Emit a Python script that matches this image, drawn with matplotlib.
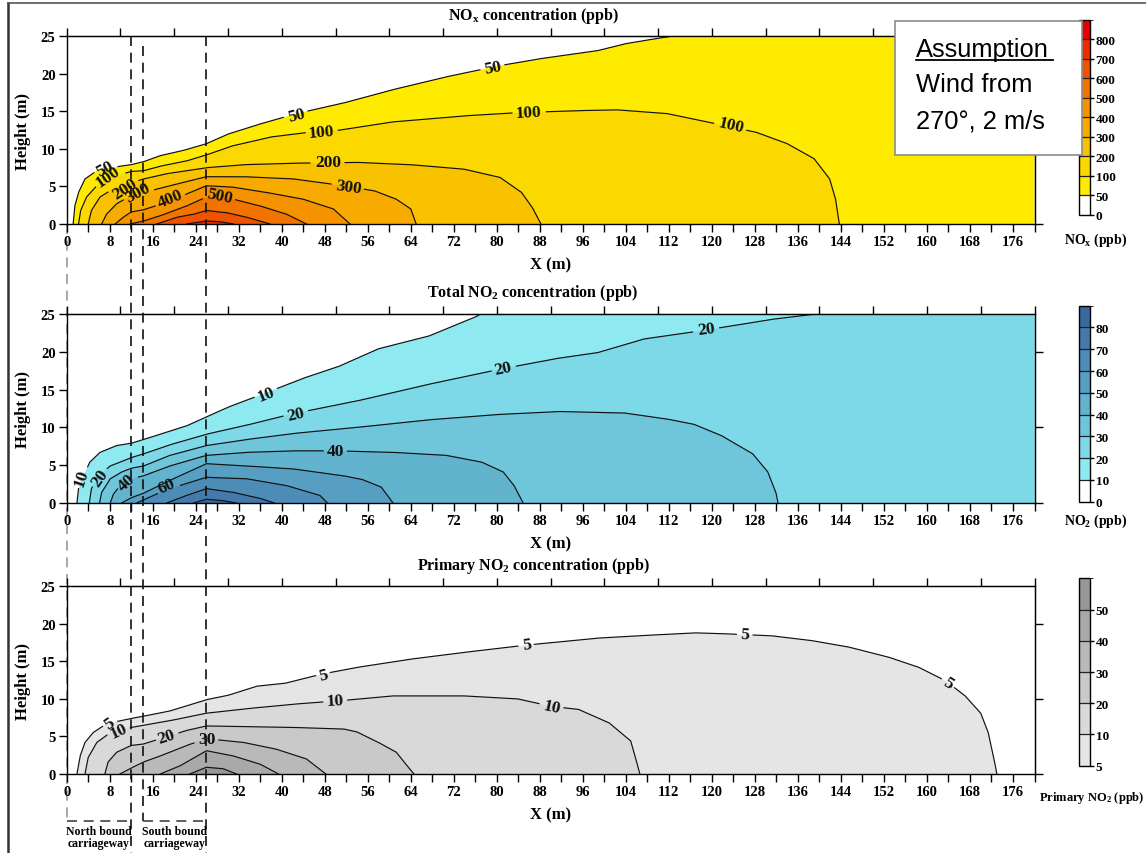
import numpy as np
import matplotlib
matplotlib.use("Agg")
import matplotlib.pyplot as plt
from matplotlib.colors import ListedColormap, BoundaryNorm
from matplotlib.cm import ScalarMappable
from matplotlib.patches import Rectangle
from matplotlib.lines import Line2D
from matplotlib.transforms import blended_transform_factory
from matplotlib.ticker import MultipleLocator

plt.rcParams["font.family"] = "Liberation Serif"
plt.rcParams["font.weight"] = "bold"
plt.rcParams["mathtext.fontset"] = "custom"
plt.rcParams["mathtext.rm"] = "Liberation Serif:bold"
plt.rcParams["mathtext.it"] = "Liberation Serif:bold:italic"
plt.rcParams["mathtext.bf"] = "Liberation Serif:bold"

# ---------------------------------------------------------------- domain
X_MAX = 180
H_MAX = 25
NORTH_BOUND = (0, 12)
SOUTH_BOUND = (14.2, 26)

# ---------------------------------------------------------------- NOx
NOX_BOUNDS = [0, 50, 100, 200, 300, 400, 500, 600, 700, 800, 900]
NOX_TICKS = [0, 50, 100, 200, 300, 400, 500, 600, 700, 800]
NOX_COLORS = ["#FFFFFF", "#FFEB00", "#FBD900", "#F9C200", "#F7AA00",
              "#F59200", "#F27400", "#EF5200", "#EC2C00", "#E80000"]

NOX_50_X = [1.2, 1.5, 2.2, 3.4, 5.6, 8.1, 12.0, 14.3, 17.4, 21.7, 26.0, 30.1,
            35.4, 42.7, 51.4, 60.7, 70.6, 80.6, 87.9, 98.8, 103.8, 109.6, 112.5]
NOX_50_Y = [0, 2.4, 4.2, 6.0, 7.1, 7.5, 7.9, 8.3, 9.1, 9.8, 10.7, 12.0,
            13.2, 14.7, 16.1, 17.9, 19.6, 21.1, 22.0, 23.1, 24.0, 24.7, 25.0]
NOX_100_X = [2.2, 2.6, 3.7, 5.6, 8.1, 12.0, 14.3, 17.4, 22.3, 26.0, 30.8, 38.1,
             46.0, 50.7, 60.7, 73.9, 83.2, 95.2, 102.4, 111.7, 121.1, 128.3,
             134.0, 139.0, 141.9, 143.0, 143.7]
NOX_100_Y = [0, 1.8, 3.6, 5.1, 6.2, 7.0, 7.1, 7.7, 8.4, 9.2, 10.4, 11.6,
             12.3, 12.5, 13.6, 14.4, 14.8, 15.1, 15.2, 14.7, 13.3, 12.2,
             10.7, 8.7, 6.0, 3.3, 0]
NOX_200_X = [4.0, 4.6, 6.2, 8.7, 12.0, 14.3, 18.6, 22.3, 26.0, 32.9, 42.2,
             54.3, 64.0, 73.9, 80.6, 84.6, 86.6, 88.2]
NOX_200_Y = [0, 1.8, 3.6, 4.7, 5.5, 6.0, 6.7, 7.1, 7.5, 7.9, 8.1,
             8.2, 7.9, 7.3, 6.2, 4.2, 2.2, 0]
NOX_300_X = [6.5, 7.4, 9.3, 12.0, 14.3, 19.2, 26.0, 32.9, 42.2, 51.5, 57.3,
             61.3, 64.0, 65.0]
NOX_300_Y = [0, 1.3, 2.7, 3.8, 4.2, 5.1, 6.3, 6.3, 6.0, 5.1, 4.4,
             3.3, 2.0, 0]
NOX_400_X = [9.0, 10.5, 12.0, 14.3, 18.6, 22.3, 26.0, 31.0, 37.2, 44.0, 49.6, 52.7]
NOX_400_Y = [0, 0.9, 1.6, 1.9, 2.9, 4.0, 5.1, 4.9, 4.2, 3.3, 2.0, 0]
NOX_500_X = [11.8, 14.3, 17.4, 22.3, 26.0, 31.0, 36.0, 40.9, 44.6]
NOX_500_Y = [0, 0.4, 1.1, 2.4, 3.6, 3.3, 2.4, 1.3, 0]
NOX_600_X = [16.7, 20.5, 23.6, 26.0, 29.8, 33.5, 37.8]
NOX_600_Y = [0, 0.9, 1.3, 1.8, 1.5, 0.9, 0]
NOX_700_X = [22.3, 26.0, 28.5, 31.0]
NOX_700_Y = [0, 0.4, 0.3, 0]

# (level, x, height, rotation)
NOX_LABELS = [(50, 7.2, 7.4, 28), (100, 7.7, 6.3, 35), (200, 10.8, 4.7, 33),
              (300, 13.2, 4.2, 28), (400, 19.2, 3.4, 22), (500, 28.4, 3.7, -12),
              (50, 42.7, 14.5, 14), (100, 47.4, 12.3, 5), (200, 48.7, 8.2, 0),
              (300, 52.4, 5.0, -8), (50, 79.3, 20.9, 11), (100, 85.9, 14.9, 3),
              (100, 123.6, 13.2, -13)]

# ---------------------------------------------------------------- total NO2
NO2_BOUNDS = [0, 10, 20, 30, 40, 50, 60, 70, 80, 90]
NO2_TICKS = [0, 10, 20, 30, 40, 50, 60, 70, 80]
NO2_COLORS = ["#FFFFFF", "#8EEAF0", "#7DD8E7", "#6FC6DA", "#62B3CD",
              "#579FC2", "#4D8CB7", "#447AAB", "#3B68A0"]

NO2_10_X = [1.9, 2.2, 3.1, 4.3, 6.2, 9.3, 12.0, 14.3, 17.4, 22.3, 26.0, 30.1,
            36.8, 44.0, 50.7, 58.0, 67.4, 76.0, 77.0]
NO2_10_Y = [0, 1.9, 3.6, 5.4, 6.7, 7.6, 7.9, 8.4, 9.1, 10.2, 11.4, 12.7,
            14.5, 16.5, 18.1, 20.4, 22.1, 24.6, 25.0]
NO2_20_X = [4.2, 4.6, 5.9, 8.1, 12.0, 14.3, 19.2, 26.0, 33.5, 42.0, 54.0, 67.3,
            80.6, 91.0, 98.8, 107.4, 118.2, 131.2, 139.4]
NO2_20_Y = [0, 1.9, 3.6, 4.9, 6.0, 6.5, 7.7, 9.1, 10.3, 11.8, 13.5, 15.7,
            17.7, 19.1, 19.9, 21.7, 22.8, 24.3, 25.0]
NO2_30_X = [6.1, 6.5, 8.1, 10.2, 12.0, 14.3, 19.2, 26.0, 33.5, 42.2, 54.0, 67.3,
            80.0, 91.7, 103.8, 111.7, 116.7, 121.8, 127.6, 130.4, 131.9, 132.3]
NO2_30_Y = [0, 1.4, 3.2, 4.1, 4.6, 4.9, 6.3, 7.6, 8.4, 9.2, 10.0, 11.0,
            11.7, 12.1, 11.9, 11.1, 10.4, 8.9, 6.5, 4.1, 1.4, 0]
NO2_40_X = [8.1, 8.7, 10.2, 12.0, 14.3, 19.2, 26.0, 33.5, 42.2, 50.0, 60.7,
            70.6, 77.2, 81.2, 83.2, 84.9]
NO2_40_Y = [0, 1.2, 2.5, 3.2, 3.6, 4.9, 6.3, 6.7, 6.9, 6.9, 6.7,
            6.3, 5.4, 4.1, 2.3, 0]
NO2_50_X = [10.2, 12.0, 14.3, 19.2, 26.0, 33.5, 42.2, 51.5, 55.0, 58.5, 60.7]
NO2_50_Y = [0, 0.7, 1.3, 3.0, 5.2, 4.9, 4.5, 3.6, 3.1, 2.1, 0]
NO2_60_X = [13.0, 16.1, 19.2, 26.0, 33.5, 40.9, 47.1, 48.5]
NO2_60_Y = [0, 1.0, 1.9, 3.4, 3.2, 2.3, 1.0, 0]
NO2_70_X = [18.6, 22.3, 26.0, 31.0, 36.0, 38.6]
NO2_70_Y = [0, 1.0, 1.9, 1.4, 0.6, 0]
NO2_80_X = [23.6, 26.0, 29.1, 31.6]
NO2_80_Y = [0, 0.5, 0.3, 0]

NO2_LABELS = [(10, 2.8, 3.4, 72), (20, 6.2, 3.3, 55), (40, 11.2, 2.8, 42),
              (60, 18.6, 2.3, 25), (10, 37.1, 14.4, 22), (20, 42.7, 11.8, 13),
              (40, 50.0, 6.9, 0), (20, 81.2, 17.8, 12), (20, 118.9, 23.0, 7)]

# ---------------------------------------------------------------- primary NO2
PNO2_BOUNDS = [5, 10, 20, 30, 40, 50, 60]
PNO2_TICKS = [5, 10, 20, 30, 40, 50]
PNO2_COLORS = ["#E5E5E5", "#D9D9D9", "#C9C9C9", "#B9B9B9", "#A9A9A9", "#979797"]

PNO2_5_X = [1.9, 2.5, 3.4, 4.9, 7.4, 12.0, 14.3, 19.2, 26.0, 30.1, 35.4, 40.7,
            47.4, 54.0, 64.0, 73.9, 85.9, 98.8, 106.0, 116.8, 121.8, 131.2,
            138.3, 145.5, 152.7, 158.5, 163.5, 167.1, 170.0, 171.4, 172.5, 173.0]
PNO2_5_Y = [0, 2.4, 4.2, 5.5, 6.7, 7.4, 7.7, 8.4, 9.9, 10.5, 11.7, 12.1,
            13.3, 14.2, 15.3, 16.2, 17.2, 18.1, 18.4, 18.8, 18.7, 18.4,
            17.8, 16.9, 15.6, 14.2, 12.4, 10.4, 8.1, 5.5, 1.9, 0]
PNO2_10_X = [3.4, 4.0, 5.6, 8.1, 12.0, 14.3, 19.2, 26.0, 33.5, 42.2, 51.5, 60.7,
             73.9, 83.9, 90.2, 95.2, 100.9, 104.9, 105.9, 106.6]
PNO2_10_Y = [0, 2.2, 4.2, 5.5, 6.2, 6.5, 7.1, 8.1, 8.7, 9.3, 9.8, 10.4,
             10.4, 10.0, 9.0, 8.6, 6.8, 4.4, 1.9, 0]
PNO2_20_X = [7.1, 7.7, 9.3, 12.0, 14.3, 17.4, 22.3, 26.0, 33.5, 42.2, 51.5,
             54.0, 58.0, 61.3, 63.3, 64.6]
PNO2_20_Y = [0, 1.6, 2.9, 3.8, 4.0, 4.7, 5.8, 6.4, 6.3, 6.2, 6.0,
             5.6, 4.2, 2.9, 1.1, 0]
PNO2_30_X = [9.9, 12.0, 14.3, 17.4, 22.3, 26.0, 32.9, 39.0, 44.6, 48.2]
PNO2_30_Y = [0, 0.8, 1.6, 2.4, 3.8, 4.7, 4.2, 3.3, 2.0, 0]
PNO2_40_X = [17.4, 21.1, 26.0, 31.0, 36.0, 39.4]
PNO2_40_Y = [0, 1.1, 3.1, 2.4, 1.3, 0]
PNO2_50_X = [22.9, 26.0, 29.1, 31.6]
PNO2_50_Y = [0, 0.9, 0.7, 0]

PNO2_LABELS = [(5, 7.9, 6.8, 35), (10, 9.6, 5.8, 25), (20, 18.6, 5.0, 18),
               (30, 26.0, 4.7, 0), (5, 47.7, 13.2, 14), (10, 50.0, 9.8, 3),
               (5, 85.6, 17.2, 7), (10, 90.2, 9.0, -12), (5, 126.1, 18.6, -3),
               (5, 163.9, 12.1, -32)]

NOX_CONTOURS = [(50, NOX_50_X, NOX_50_Y), (100, NOX_100_X, NOX_100_Y),
                (200, NOX_200_X, NOX_200_Y), (300, NOX_300_X, NOX_300_Y),
                (400, NOX_400_X, NOX_400_Y), (500, NOX_500_X, NOX_500_Y),
                (600, NOX_600_X, NOX_600_Y), (700, NOX_700_X, NOX_700_Y)]
NO2_CONTOURS = [(10, NO2_10_X, NO2_10_Y), (20, NO2_20_X, NO2_20_Y),
                (30, NO2_30_X, NO2_30_Y), (40, NO2_40_X, NO2_40_Y),
                (50, NO2_50_X, NO2_50_Y), (60, NO2_60_X, NO2_60_Y),
                (70, NO2_70_X, NO2_70_Y), (80, NO2_80_X, NO2_80_Y)]
PNO2_CONTOURS = [(5, PNO2_5_X, PNO2_5_Y), (10, PNO2_10_X, PNO2_10_Y),
                 (20, PNO2_20_X, PNO2_20_Y), (30, PNO2_30_X, PNO2_30_Y),
                 (40, PNO2_40_X, PNO2_40_Y), (50, PNO2_50_X, PNO2_50_Y)]

# ---------------------------------------------------------------- figure
W, H = 1146, 854
DPI = 100
fig = plt.figure(figsize=(W / DPI, H / DPI), dpi=DPI)


def fx(px):
    return px / W


def fy(py):
    return 1 - py / H


AX_LEFT, AX_RIGHT = 66.7, 1034.5
PANELS = [(37.3, 225.0), (315.0, 504.0), (587.3, 775.0)]
CBARS = [(20.7, 215.7), (306.7, 502.7), (579.3, 766.7)]
CB_LEFT, CB_RIGHT = 1079.0, 1090.0
LABEL_SIZE = 12.5


def contour_line(ax, xs, ys, gaps):
    """Draw a contour line, leaving a gap under each inline label."""
    px, py = [], []
    for i in range(len(xs) - 1):
        t = np.linspace(0.0, 1.0, 24, endpoint=False)
        px.extend(xs[i] + (xs[i + 1] - xs[i]) * t)
        py.extend(ys[i] + (ys[i + 1] - ys[i]) * t)
    px.append(xs[-1])
    py.append(ys[-1])
    px = np.asarray(px)
    py = np.asarray(py)
    disp = ax.transData.transform(np.column_stack([px, py]))
    keep = np.ones(len(px), dtype=bool)
    for cx, cy, rot, hw, hh in gaps:
        dx = disp[:, 0] - cx
        dy = disp[:, 1] - cy
        c, s = np.cos(np.radians(rot)), np.sin(np.radians(rot))
        u = dx * c + dy * s
        v = -dx * s + dy * c
        keep &= ~((np.abs(u) < hw) & (np.abs(v) < hh))
    py = np.where(keep, py, np.nan)
    ax.plot(px, py, color="#111111", lw=0.85, zorder=2, solid_joinstyle="round")


def draw_panel(ax, contours, bounds, colors, labels, title):
    ax.set_xlim(0, X_MAX)
    ax.set_ylim(0, H_MAX)
    ax.set_facecolor("white")
    em = LABEL_SIZE * DPI / 72.0
    for level, xs, ys in contours:
        band = colors[bounds.index(level)]
        px, py = list(xs), list(ys)
        if py[-1] >= H_MAX:
            px += [X_MAX, X_MAX]
            py += [H_MAX, 0]
        ax.fill(px, py, color=band, lw=0, zorder=1)
        gaps = []
        for lev, x, y, rot in labels:
            if lev == level:
                cx, cy = ax.transData.transform((x, y))
                hw = len(str(lev)) * 0.5 * em / 2 + 3
                gaps.append((cx, cy, rot, hw, 0.45 * em))
        contour_line(ax, xs, ys, gaps)
    for level, x, y, rot in labels:
        ax.text(x, y, f"{level}", rotation=rot, rotation_mode="anchor",
                ha="center", va="center", fontsize=LABEL_SIZE, zorder=3,
                color="#111111")

    for s in ax.spines.values():
        s.set_linewidth(1.0)
        s.set_zorder(4)
    ax.xaxis.set_major_locator(MultipleLocator(8))
    ax.xaxis.set_minor_locator(MultipleLocator(4))
    ax.set_yticks([0, 5, 10, 15, 20, 25])
    ax.tick_params(axis="both", which="both", direction="out", length=6,
                   width=1, labelsize=10.5, pad=2)
    top = ax.secondary_xaxis("top")
    top.set_xticks(list(range(0, X_MAX + 1, 10)))
    top.set_xticklabels([])
    top.tick_params(direction="out", length=6, width=1)
    right = ax.secondary_yaxis("right")
    right.set_yticks([0, 10, 20])
    right.set_yticklabels([])
    right.tick_params(direction="out", length=6, width=1)

    ax.text(0.482, 1.116, title, transform=ax.transAxes, ha="center",
            va="center", fontsize=11.5)
    ax.text(0.5, -0.215, "X (m)", transform=ax.transAxes, ha="center",
            va="center", fontsize=12)
    ax.text(-0.045, 0.5, "Height (m)", transform=ax.transAxes, ha="center",
            va="center", rotation=90, fontsize=12)


def draw_cbar(cax, bounds, colors, ticks):
    cmap = ListedColormap(colors)
    norm = BoundaryNorm(bounds, cmap.N)
    cb = fig.colorbar(ScalarMappable(norm=norm, cmap=cmap), cax=cax,
                      boundaries=bounds, ticks=ticks, drawedges=True)
    cb.outline.set_linewidth(1.0)
    cb.dividers.set_linewidth(0.9)
    cb.dividers.set_color("#222222")
    cax.tick_params(length=3, width=1, labelsize=9.5, pad=1)
    return cb


titles = [r"NO$_\mathrm{x}$ concentration (ppb)",
          r"Total NO$_\mathrm{2}$ concentration (ppb)",
          r"Primary NO$_\mathrm{2}$ concentration (ppb)"]
panel_data = [(NOX_CONTOURS, NOX_BOUNDS, NOX_COLORS, NOX_LABELS, NOX_TICKS),
              (NO2_CONTOURS, NO2_BOUNDS, NO2_COLORS, NO2_LABELS, NO2_TICKS),
              (PNO2_CONTOURS, PNO2_BOUNDS, PNO2_COLORS, PNO2_LABELS, PNO2_TICKS)]

axes = []
for (top_px, bot_px), (ctop, cbot), title, (cont, bnds, cols, labs, tks) in zip(
        PANELS, CBARS, titles, panel_data):
    ax = fig.add_axes([fx(AX_LEFT), fy(bot_px), fx(AX_RIGHT - AX_LEFT),
                       (bot_px - top_px) / H])
    draw_panel(ax, cont, bnds, cols, labs, title)
    cax = fig.add_axes([fx(CB_LEFT), fy(cbot), fx(CB_RIGHT - CB_LEFT),
                        (cbot - ctop) / H])
    draw_cbar(cax, bnds, cols, tks)
    axes.append(ax)

cb_label_x = fx(1096)
fig.text(cb_label_x, fy(240.7), r"NO$_\mathrm{x}$ (ppb)", ha="center",
         va="center", fontsize=10)
fig.text(cb_label_x, fy(521.7), r"NO$_\mathrm{2}$ (ppb)", ha="center",
         va="center", fontsize=10)
fig.text(fx(1092), fy(798), r"Primary NO$_\mathrm{2}$ (ppb)", ha="center",
         va="center", fontsize=9)

# ---------------------------------------------------------------- carriageway markers
trans = blended_transform_factory(axes[0].transData, fig.transFigure)
dash = dict(lw=1.2, dashes=(6, 4))
bracket_y = fy(821.7)
fig.add_artist(Line2D([NORTH_BOUND[0]] * 2, [fy(225), bracket_y], transform=trans,
                      color="#9a9a9a", zorder=-1, **dash))
fig.add_artist(Line2D([NORTH_BOUND[1]] * 2, [fy(37.3), 0], transform=trans,
                      color="#111111", **dash))
fig.add_artist(Line2D([SOUTH_BOUND[0]] * 2, [fy(47), bracket_y], transform=trans,
                      color="#111111", **dash))
fig.add_artist(Line2D([SOUTH_BOUND[1]] * 2, [fy(37.3), 0], transform=trans,
                      color="#111111", **dash))
for lo, hi in (NORTH_BOUND, SOUTH_BOUND):
    fig.add_artist(Line2D([lo, hi], [bracket_y, bracket_y], transform=trans,
                          color="#444444", **dash))
fig.text(0.5 * sum(NORTH_BOUND), fy(838.5), "North bound\ncarriageway",
         transform=trans, ha="center", va="center", fontsize=8.5,
         linespacing=1.0)
fig.text(0.5 * sum(SOUTH_BOUND), fy(838.5), "South bound\ncarriageway",
         transform=trans, ha="center", va="center", fontsize=8.5,
         linespacing=1.0)

# ---------------------------------------------------------------- page frame
fig.add_artist(Line2D([fx(8), fx(8)], [0, fy(4)], transform=fig.transFigure,
                      color="#333333", lw=1.8))
fig.add_artist(Line2D([fx(8), 1], [fy(4), fy(4)], transform=fig.transFigure,
                      color="#555555", lw=1.2))

# ---------------------------------------------------------------- assumption box
fig.add_artist(Rectangle((fx(895), fy(155.7)), fx(1081.7 - 895), (155.7 - 22.3) / H,
                         transform=fig.transFigure, fc="white", ec="#8c8c8c",
                         lw=1.2, zorder=5))
box_font = dict(family="Liberation Sans", weight="normal", fontsize=18.4,
                va="baseline", ha="left", zorder=6)
fig.text(fx(916), fy(56.7), "Assumption", **box_font)
fig.add_artist(Line2D([fx(916), fx(1053)], [fy(60.7), fy(60.7)],
                      transform=fig.transFigure, color="black", lw=1.3, zorder=6))
fig.text(fx(916), fy(91.7), "Wind from", **box_font)
fig.text(fx(916), fy(128.3), "270°, 2 m/s", **box_font)

fig.savefig("out.png", dpi=DPI)
